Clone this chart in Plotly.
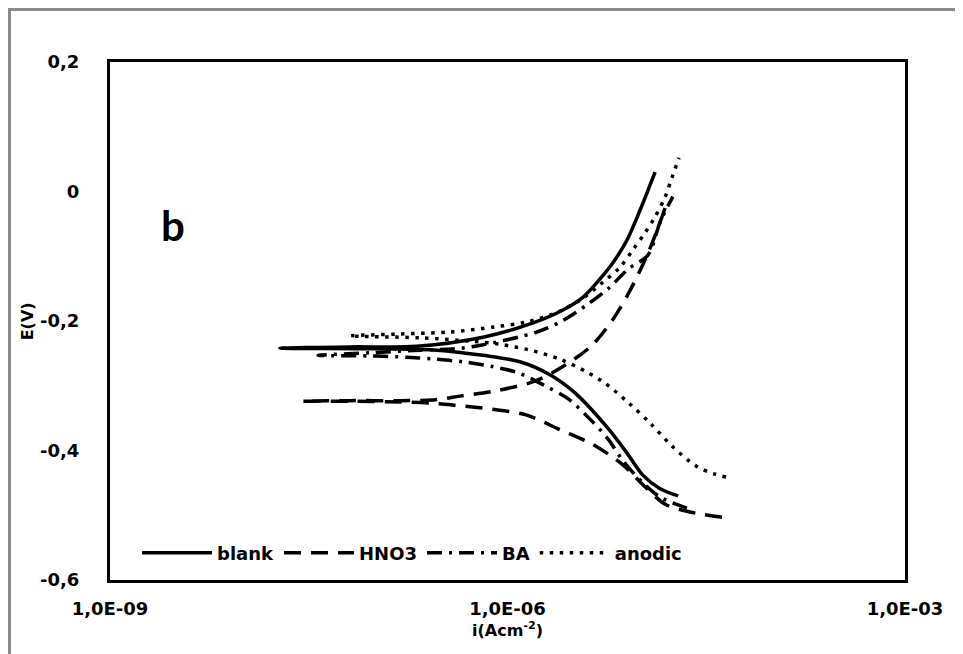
import plotly.graph_objects as go

# ---- data (current density i in A/cm2, potential E in V) ----
blank_i = [1.94e-5, 1.42e-5, 1.05e-5, 7.98e-6, 5.64e-6, 3.23e-6, 2.09e-6, 1.24e-6,
           6.53e-7, 2.94e-7, 1.09e-7, 1.92e-8, 6.47e-8, 2.07e-7, 6.53e-7, 1.56e-6,
           2.62e-6, 3.72e-6, 4.99e-6, 6.25e-6, 7.98e-6, 1.0e-5, 1.15e-5, 1.30e-5]
blank_E = [-0.470, -0.459, -0.438, -0.404, -0.364, -0.311, -0.283, -0.263,
           -0.253, -0.245, -0.243, -0.242, -0.240, -0.239, -0.225, -0.203,
           -0.183, -0.163, -0.135, -0.110, -0.075, -0.029, 0.002, 0.030]

hno3_i = [4.16e-5, 2.38e-5, 1.55e-5, 1.09e-5, 7.31e-6, 4.34e-6, 2.49e-6, 1.38e-6,
          7.51e-7, 4.02e-7, 2.74e-7, 1.55e-7, 6.47e-8, 2.86e-8, 6.47e-8, 1.55e-7,
          2.74e-7, 4.38e-7, 8.05e-7, 1.61e-6, 2.58e-6, 4.27e-6, 6.37e-6, 8.71e-6,
          1.15e-5, 1.42e-5, 1.55e-5]
hno3_E = [-0.503, -0.495, -0.483, -0.456, -0.421, -0.390, -0.368, -0.345,
          -0.336, -0.330, -0.327, -0.325, -0.324, -0.324, -0.323, -0.323,
          -0.322, -0.316, -0.308, -0.293, -0.271, -0.239, -0.195, -0.147,
          -0.095, -0.047, -0.025]

ba_i = [2.26e-5, 1.42e-5, 1.04e-5, 7.44e-6, 5.73e-6, 4.12e-6, 2.86e-6, 1.92e-6,
        1.20e-6, 7.51e-7, 4.61e-7, 2.84e-7, 1.74e-7, 9.17e-8, 3.72e-8, 9.17e-8,
        2.19e-7, 4.02e-7, 6.42e-7, 1.67e-6, 2.58e-6, 3.98e-6, 5.83e-6, 8.12e-6,
        1.15e-5, 1.42e-5, 1.77e-5]
ba_E = [-0.489, -0.472, -0.449, -0.416, -0.382, -0.350, -0.320, -0.300,
        -0.280, -0.270, -0.263, -0.259, -0.256, -0.254, -0.253, -0.249,
        -0.245, -0.243, -0.237, -0.217, -0.200, -0.175, -0.149, -0.120,
        -0.098, -0.047, -0.008]

anodic_i = [4.46e-5, 3.62e-5, 2.65e-5, 1.74e-5, 1.21e-5, 8.26e-6, 5.44e-6, 3.98e-6,
            2.49e-6, 1.48e-6, 8.77e-7, 5.21e-7, 2.19e-7, 6.47e-8, 1.55e-7, 3.68e-7,
            8.05e-7, 1.36e-6, 2.28e-6, 3.52e-6, 5.26e-6, 7.06e-6, 8.85e-6, 1.09e-5,
            1.30e-5, 1.55e-5, 1.74e-5, 1.97e-5]
anodic_E = [-0.441, -0.436, -0.424, -0.393, -0.359, -0.327, -0.296, -0.279,
            -0.259, -0.245, -0.236, -0.231, -0.226, -0.223, -0.220, -0.217,
            -0.209, -0.202, -0.188, -0.168, -0.140, -0.117, -0.090, -0.064,
            -0.039, -0.008, 0.021, 0.052]

x_tickvals = [1e-9, 1e-6, 1e-3]
x_ticktext = ["1,0E-09", "1,0E-06", "1,0E-03"]
y_tickvals = [-0.6, -0.4, -0.2, 0.0, 0.2]
y_ticktext = ["-0,6", "-0,4", "-0,2", "0", "0,2"]

FONT = "'DejaVu Sans', Verdana, sans-serif"
BFONT = "Lato, 'DejaVu Sans', sans-serif"

fig = go.Figure()
series = [
    ("blank", blank_i, blank_E, "solid"),
    ("HNO3", hno3_i, hno3_E, "17px,10px"),
    ("BA", ba_i, ba_E, "15px,7px,3px,7px"),
    ("anodic", anodic_i, anodic_E, "3.5px,6.5px"),
]
for name, xi, ye, dash in series:
    fig.add_trace(go.Scatter(
        x=xi, y=ye, mode="lines", name=name,
        line=dict(color="black", width=3.5, dash=dash, shape="spline", smoothing=0.9),
    ))

tickfont = dict(family=FONT, size=18, color="black", weight="bold")

fig.update_layout(
    width=955, height=646,
    margin=dict(l=102, r=58, t=54, b=74),
    paper_bgcolor="white", plot_bgcolor="white",
    font=dict(family=FONT, size=18, color="black"),
    showlegend=True,
    legend=dict(
        orientation="h", x=0.034, y=0.052, xanchor="left", yanchor="middle",
        font=dict(family=FONT, size=18, color="black", weight="bold"),
        bgcolor="rgba(0,0,0,0)", itemwidth=70, itemclick=False,
    ),
    xaxis=dict(
        type="log", range=[-9, -3], tickvals=x_tickvals, ticktext=x_ticktext,
        showgrid=False, zeroline=False, showline=True, mirror=True,
        linecolor="black", linewidth=3, ticks="", ticklabelstandoff=10,
        tickfont=tickfont,
    ),
    yaxis=dict(
        range=[-0.6, 0.2], tickvals=y_tickvals, ticktext=y_ticktext,
        showgrid=False, zeroline=False, showline=True, mirror=True,
        linecolor="black", linewidth=3, ticks="", ticklabelstandoff=24,
        tickfont=tickfont,
    ),
    annotations=[
        dict(text="b", xref="paper", yref="paper", x=0.079, y=0.685,
             xanchor="center", yanchor="middle",
             showarrow=False, font=dict(family=BFONT, size=42, weight="bold")),
        dict(text="E(V)", xref="paper", yref="paper", x=-0.104, y=0.5,
             xanchor="center", yanchor="middle",
             textangle=-90, showarrow=False,
             font=dict(family=FONT, size=16, weight="bold")),
        dict(text="i(Acm<sup>-2</sup>)", xref="paper", yref="paper", x=0.5, y=-0.095,
             xanchor="center", yanchor="middle", showarrow=False,
             font=dict(family=FONT, size=16, weight="bold")),
    ],
    shapes=[
        dict(type="rect", xref="paper", yref="paper",
             x0=-0.1264, x1=1.1, y0=-0.2, y1=1.1014,
             line=dict(color="#8a8a8a", width=3), fillcolor="rgba(0,0,0,0)",
             layer="below"),
    ],
)

fig.write_html("out.html")
